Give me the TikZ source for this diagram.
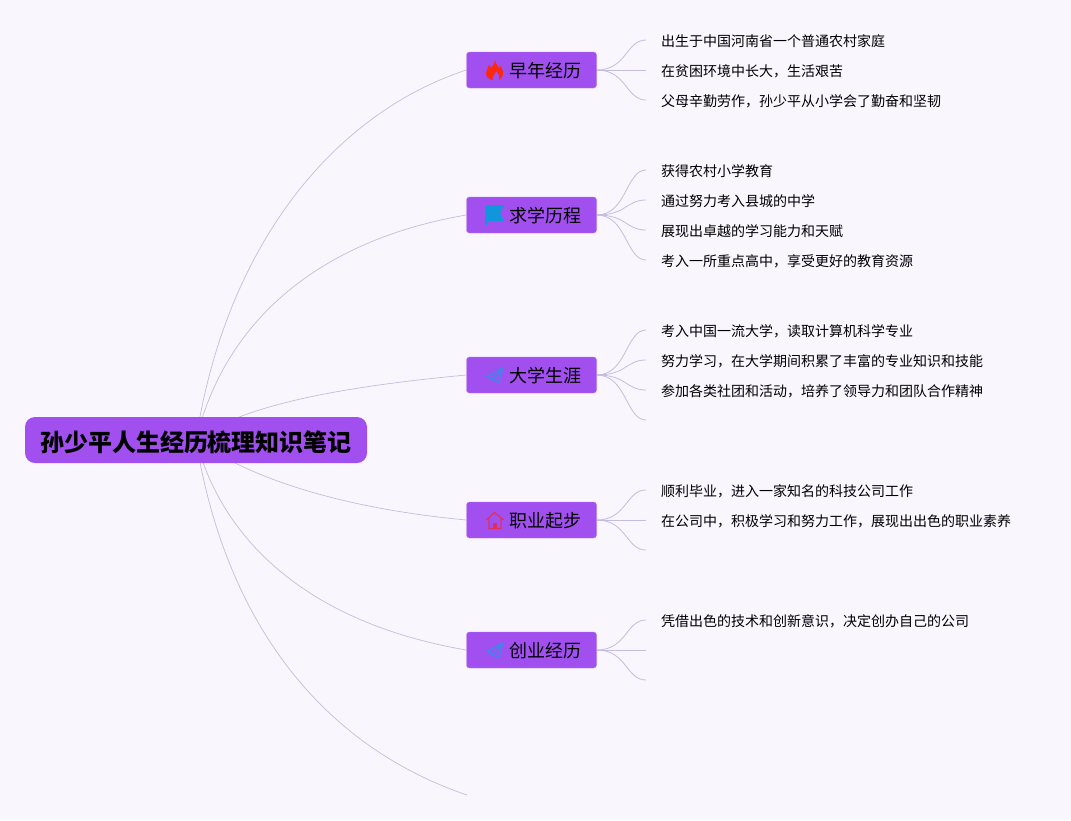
\documentclass[tikz,border=0pt]{standalone}
\usepackage{fontspec}
\setmainfont{Noto Sans CJK SC}
\usetikzlibrary{backgrounds}
\definecolor{kPaper}{HTML}{F9F6FD}
\definecolor{kPurple}{HTML}{A24FF0}
\definecolor{kEdge}{HTML}{B77AF2}
\definecolor{kLine}{HTML}{C6BCDE}
\definecolor{kFlame}{HTML}{FA2A12}
\definecolor{kFlag}{HTML}{1296DB}
\definecolor{kPlane}{HTML}{4A80EC}
\definecolor{kHouse}{HTML}{E0305A}
\tikzset{
  rootbox/.style={fill=kPurple,rounded corners=10pt,minimum width=342pt,minimum height=46pt,inner sep=0pt,font=\fontsize{24}{24}\selectfont\bfseries,text height=24pt,text depth=1pt},
  branchbox/.style={draw=kEdge,fill=kPurple,rounded corners=3pt,minimum width=130pt,minimum height=36pt,inner sep=0pt,font=\fontsize{18}{18}\selectfont,text height=15pt,text depth=0pt},
  leafbox/.style={anchor=west,inner xsep=15pt,inner ysep=0pt,font=\fontsize{14}{14}\selectfont,text height=13pt,text depth=1pt},
  bigline/.style={draw=kLine,line width=0.7pt},
  leafline/.style={draw=kLine,line width=0.8pt},
  planeline/.style={draw=kPlane,line width=1.7pt,line join=round},
}
\begin{document}
\begin{tikzpicture}[x=1pt,y=-1pt]
  \useasboundingbox (0,0) rectangle (1071,820);
  % root and branches
  \node[rootbox] (root) at (196,440) {孙少平人生经历梳理知识笔记};
  \node[branchbox] (b1) at (531.5,70) {\hspace*{28pt}早年经历};
  \node[branchbox] (b2) at (531.5,215) {\hspace*{28pt}求学历程};
  \node[branchbox] (b3) at (531.5,375) {\hspace*{28pt}大学生涯};
  \node[branchbox] (b4) at (531.5,520) {\hspace*{28pt}职业起步};
  \node[branchbox] (b5) at (531.5,650) {\hspace*{28pt}创业经历};
  \coordinate (b6) at (467,795);
  % leaves
  \node[leafbox] (l11) at (646,40) {出生于中国河南省一个普通农村家庭};
  \node[leafbox] (l12) at (646,70) {在贫困环境中长大，生活艰苦};
  \node[leafbox] (l13) at (646,100) {父母辛勤劳作，孙少平从小学会了勤奋和坚韧};
  \node[leafbox] (l21) at (646,170) {获得农村小学教育};
  \node[leafbox] (l22) at (646,200) {通过努力考入县城的中学};
  \node[leafbox] (l23) at (646,230) {展现出卓越的学习能力和天赋};
  \node[leafbox] (l24) at (646,260) {考入一所重点高中，享受更好的教育资源};
  \node[leafbox] (l31) at (646,330) {考入中国一流大学，读取计算机科学专业};
  \node[leafbox] (l32) at (646,360) {努力学习，在大学期间积累了丰富的专业知识和技能};
  \node[leafbox] (l33) at (646,390) {参加各类社团和活动，培养了领导力和团队合作精神};
  \coordinate (l34) at (646,420);
  \node[leafbox] (l41) at (646,490) {顺利毕业，进入一家知名的科技公司工作};
  \node[leafbox] (l42) at (646,520) {在公司中，积极学习和努力工作，展现出出色的职业素养};
  \coordinate (l43) at (646,550);
  \node[leafbox] (l51) at (646,620) {凭借出色的技术和创新意识，决定创办自己的公司};
  \coordinate (l52) at (646,650);
  \coordinate (l53) at (646,680);
  % icons
  \fill[kFlame] (495,60) .. controls (495.5,64) and (498,65) .. (499,68) .. controls (500,68) and (500.5,67) .. (500.5,65.5) .. controls (502.5,69) and (503.5,72) .. (503,74.5) .. controls (502.5,77) and (501,79) .. (499,80) .. controls (500,77) and (499,74) .. (496,71) .. controls (496,74) and (492,75) .. (492.5,80) .. controls (489,79.5) and (486,77) .. (486,73) .. controls (486,70) and (488,68) .. (489,65) .. controls (490,66) and (490.5,67) .. (491,68) .. controls (492.5,66) and (494.5,64) .. (495,60) -- cycle;
  \fill[kFlag] (485,205) -- (504,205) -- (500,213) -- (504,221) -- (487,221) -- (487,225) -- (485,225) -- cycle;
  \draw[planeline] (503,368) -- (487,376.5) -- (492.5,379.5) -- cycle (492.5,379.5) -- (498.5,382.5) -- (503,368);
  \draw[kHouse,line width=1.2pt,line join=round] (486.5,520) -- (494.5,512.5) -- (503.5,520) (489,518.5) -- (489,528.5) -- (501,528.5) -- (501,518.5);
  \fill[kHouse] (492.5,523) rectangle (496.5,528.5);
  \draw[planeline] (503,643) -- (487,651.5) -- (492.5,654.5) -- cycle (492.5,654.5) -- (498.5,657.5) -- (503,643);
  % connectors
  \begin{scope}[on background layer]
    \fill[kPaper] (0,0) rectangle (1071,820);
    \draw[bigline] (root.center) .. controls (225,250) and (330,115) .. (b1.west);
    \draw[bigline] (root.center) .. controls (225,320) and (320,240) .. (b2.west);
    \draw[bigline] (root.center) .. controls (245,402) and (360,385) .. (b3.west);
    \draw[bigline] (root.center) .. controls (260,485) and (360,510) .. (b4.west);
    \draw[bigline] (root.center) .. controls (225,550) and (320,625) .. (b5.west);
    \draw[bigline] (root.center) .. controls (225,620) and (320,745) .. (b6);
    \draw[leafline] (b1.east) .. controls +(30,0) and +(-20,0) .. (l11.west);
    \draw[leafline] (b1.east) -- (l12.west);
    \draw[leafline] (b1.east) .. controls +(30,0) and +(-20,0) .. (l13.west);
    \draw[leafline] (b2.east) .. controls +(30,0) and +(-20,0) .. (l21.west);
    \draw[leafline] (b2.east) .. controls +(30,0) and +(-20,0) .. (l22.west);
    \draw[leafline] (b2.east) .. controls +(30,0) and +(-20,0) .. (l23.west);
    \draw[leafline] (b2.east) .. controls +(30,0) and +(-20,0) .. (l24.west);
    \draw[leafline] (b3.east) .. controls +(30,0) and +(-20,0) .. (l31.west);
    \draw[leafline] (b3.east) .. controls +(30,0) and +(-20,0) .. (l32.west);
    \draw[leafline] (b3.east) .. controls +(30,0) and +(-20,0) .. (l33.west);
    \draw[leafline] (b3.east) .. controls +(30,0) and +(-20,0) .. (l34);
    \draw[leafline] (b4.east) .. controls +(30,0) and +(-20,0) .. (l41.west);
    \draw[leafline] (b4.east) -- (l42.west);
    \draw[leafline] (b4.east) .. controls +(30,0) and +(-20,0) .. (l43);
    \draw[leafline] (b5.east) .. controls +(30,0) and +(-20,0) .. (l51.west);
    \draw[leafline] (b5.east) -- (l52);
    \draw[leafline] (b5.east) .. controls +(30,0) and +(-20,0) .. (l53);
  \end{scope}
\end{tikzpicture}
\end{document}
